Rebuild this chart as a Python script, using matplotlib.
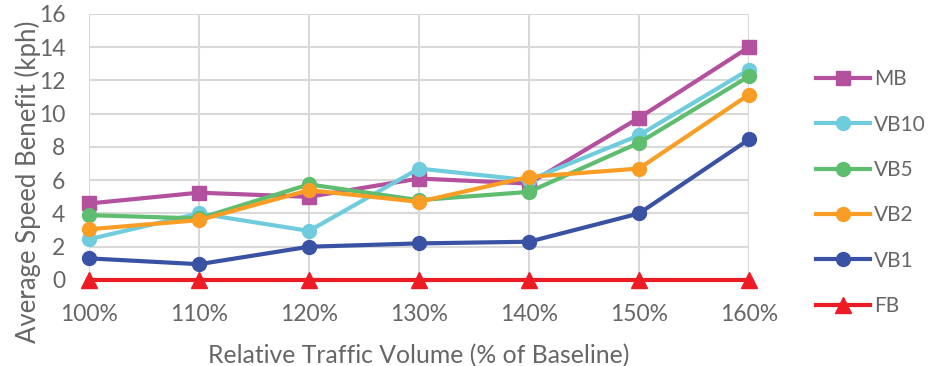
import matplotlib.pyplot as plt

plt.rcParams["font.family"] = ["Lato", "DejaVu Sans"]

volume = ["100%", "110%", "120%", "130%", "140%", "150%", "160%"]
mb = [4.6, 5.25, 5.0, 6.1, 5.8, 9.75, 14.0]
vb10 = [2.45, 4.0, 2.95, 6.7, 6.0, 8.7, 12.65]
vb5 = [3.9, 3.7, 5.75, 4.8, 5.3, 8.25, 12.25]
vb2 = [3.05, 3.6, 5.4, 4.7, 6.2, 6.7, 11.15]
vb1 = [1.3, 0.95, 2.0, 2.2, 2.3, 4.0, 8.45]
fb = [0, 0, 0, 0, 0, 0, 0]

series = [
    ("MB", mb, "#B4519E", "s"),
    ("VB10", vb10, "#6FCCDD", "o"),
    ("VB5", vb5, "#5EBD6E", "o"),
    ("VB2", vb2, "#F99D25", "o"),
    ("VB1", vb1, "#3A52A4", "o"),
    ("FB", fb, "#ED1C24", "^"),
]

text_color = "#666666"
grid_color = "#D9D9D9"

fig = plt.figure(figsize=(9.29, 3.66), dpi=100)
ax = fig.add_axes([0.0958, 0.235, 0.7104, 0.727])

x = list(range(len(volume)))
for name, vals, color, mk in series:
    ms = 11 if mk == "^" else 10
    ax.plot(x, vals, color=color, lw=3, marker=mk, ms=ms,
            label=name, clip_on=False, zorder=3)

ax.set_xlim(0, len(volume) - 1)
ax.set_ylim(0, 16)
ax.set_yticks(range(0, 17, 2))
ax.set_xticks(x)
ax.set_xticklabels(volume)
ax.grid(True, color=grid_color, lw=1.5, zorder=0)
ax.set_axisbelow(True)
for s in ax.spines.values():
    s.set_visible(False)
ax.tick_params(length=0, labelsize=16.5, colors=text_color, pad=17)
ax.tick_params(axis="y", pad=17)

ax.set_xlabel("Relative Traffic Volume (% of Baseline)", fontsize=17.8,
              color=text_color, labelpad=14)
ax.set_ylabel("Average Speed Benefit (kph)", fontsize=18.5,
              color=text_color)
# y title sits a little below the plot centre
ax.yaxis.set_label_coords(-0.073, 0.37)

fig.legend(loc="upper left", bbox_to_anchor=(0.8695, 0.834), frameon=False,
           fontsize=15, labelcolor=text_color, handlelength=2.6,
           handletextpad=0.2, labelspacing=1.22, borderaxespad=0)

fig.savefig("out.png", dpi=100)
